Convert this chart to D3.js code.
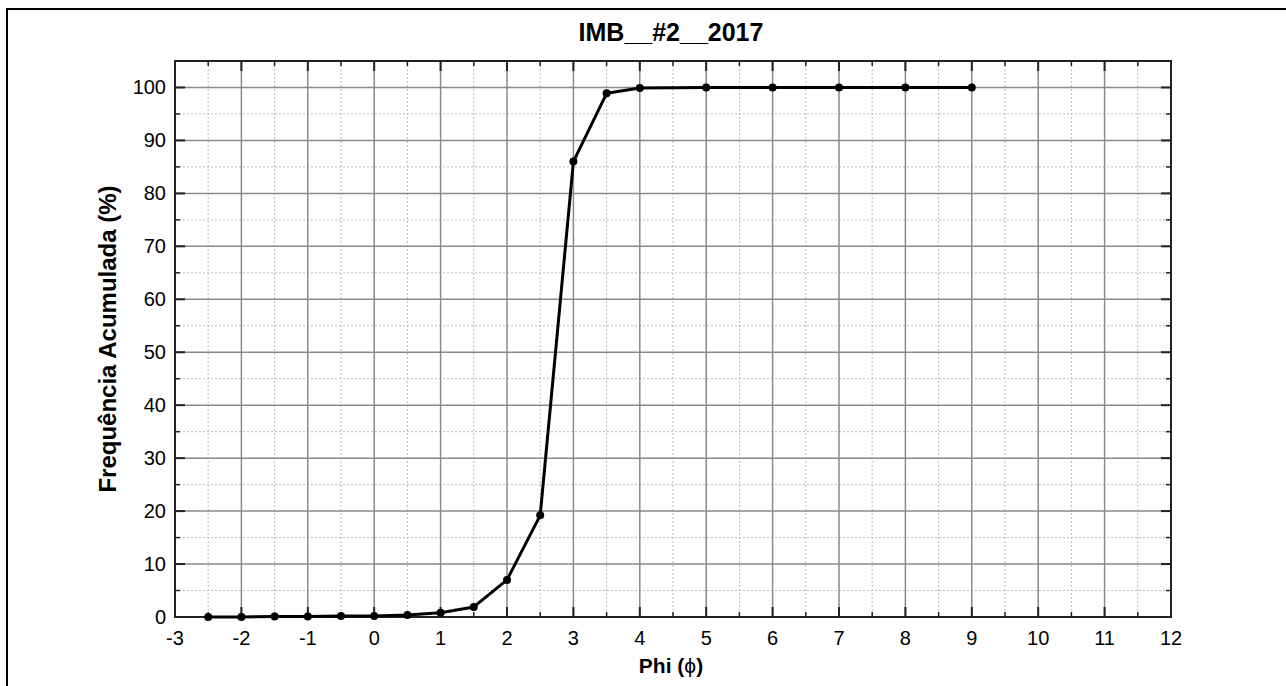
<!DOCTYPE html>
<html lang="pt">
<head>
  <meta charset="UTF-8" />
  <title>IMB__#2__2017</title>
  <script src="https://d3js.org/d3.v7.min.js"></script>
  <style>
    body{margin:0;background:#fff;font-family:"Liberation Sans",Arial,sans-serif}
    svg{display:block}
    .tick-label{font-size:20px;fill:#000}
  </style>
</head>
<body>
  <div id="chart"></div>
  <script>
    const title = "IMB__#2__2017";
    const phi = [-2.5, -2, -1.5, -1, -0.5, 0, 0.5, 1, 1.5, 2, 2.5, 3, 3.5, 4, 5, 6, 7, 8, 9];
    const freqAcum = [0, 0, 0.1, 0.1, 0.2, 0.2, 0.4, 0.8, 1.9, 7, 19.2, 86, 98.9, 99.9, 100, 100, 100, 100, 100];
    const xTicks = d3.range(-3, 13, 1);
    const yTicks = d3.range(0, 101, 10);

    const W = 1286, H = 686;
    const svg = d3.select("#chart").append("svg").attr("width", W).attr("height", H);

    // outer frame
    svg.append("rect").attr("x", 7).attr("y", 9).attr("width", W).attr("height", H)
      .attr("fill", "none").attr("stroke", "#000").attr("stroke-width", 2);

    const m = {left: 175, right: 1171, top: 61, bottom: 617};
    const x = d3.scaleLinear().domain([-3, 12]).range([m.left, m.right]);
    const y = d3.scaleLinear().domain([0, 105]).range([m.bottom, m.top]);

    const minorX = d3.range(-2.5, 12, 1);
    const minorY = d3.range(5, 105, 10);

    // minor grid (dotted)
    svg.append("g").selectAll("line").data(minorX).enter().append("line")
      .attr("x1", d => x(d)).attr("x2", d => x(d)).attr("y1", m.top).attr("y2", m.bottom)
      .attr("stroke", "#bbb").attr("stroke-width", 1).attr("stroke-dasharray", "2,2");
    svg.append("g").selectAll("line").data(minorY).enter().append("line")
      .attr("y1", d => y(d)).attr("y2", d => y(d)).attr("x1", m.left).attr("x2", m.right)
      .attr("stroke", "#bbb").attr("stroke-width", 1).attr("stroke-dasharray", "2,2");

    // major grid
    svg.append("g").selectAll("line").data(xTicks.slice(1, -1)).enter().append("line")
      .attr("x1", d => x(d)).attr("x2", d => x(d)).attr("y1", m.top).attr("y2", m.bottom)
      .attr("stroke", "#8a8a8a").attr("stroke-width", 1.5);
    svg.append("g").selectAll("line").data(yTicks.slice(1)).enter().append("line")
      .attr("y1", d => y(d)).attr("y2", d => y(d)).attr("x1", m.left).attr("x2", m.right)
      .attr("stroke", "#8a8a8a").attr("stroke-width", 1.5);

    // inward ticks on all four sides
    const tk = svg.append("g").attr("stroke", "#222");
    const addTicks = (vals, len, w) => {
      vals.forEach(v => {
        tk.append("line").attr("x1", x(v)).attr("x2", x(v)).attr("y1", m.bottom).attr("y2", m.bottom - len).attr("stroke-width", w);
        tk.append("line").attr("x1", x(v)).attr("x2", x(v)).attr("y1", m.top).attr("y2", m.top + len).attr("stroke-width", w);
      });
    };
    addTicks(xTicks, 10, 2);
    addTicks(minorX, 5, 1.5);
    const addYTicks = (vals, len, w) => {
      vals.forEach(v => {
        tk.append("line").attr("y1", y(v)).attr("y2", y(v)).attr("x1", m.left).attr("x2", m.left + len).attr("stroke-width", w);
        tk.append("line").attr("y1", y(v)).attr("y2", y(v)).attr("x1", m.right).attr("x2", m.right - len).attr("stroke-width", w);
      });
    };
    addYTicks(yTicks, 10, 2);
    addYTicks(minorY, 5, 1.5);

    // plot frame
    svg.append("rect").attr("x", m.left).attr("y", m.top)
      .attr("width", m.right - m.left).attr("height", m.bottom - m.top)
      .attr("fill", "none").attr("stroke", "#222").attr("stroke-width", 2);

    // tick labels
    svg.append("g").selectAll("text").data(xTicks).enter().append("text")
      .attr("class", "tick-label").attr("x", d => x(d)).attr("y", 645)
      .attr("text-anchor", "middle").text(d => d);
    svg.append("g").selectAll("text").data(yTicks).enter().append("text")
      .attr("class", "tick-label").attr("x", 166).attr("y", d => y(d) + 7)
      .attr("text-anchor", "end").text(d => d);

    // series
    const pts = phi.map((p, i) => ({p, f: freqAcum[i]}));
    svg.append("path").datum(pts).attr("fill", "none").attr("stroke", "#000").attr("stroke-width", 3)
      .attr("stroke-linejoin", "round")
      .attr("d", d3.line().x(d => x(d.p)).y(d => y(d.f)));
    svg.append("g").selectAll("circle").data(pts).enter().append("circle")
      .attr("cx", d => x(d.p)).attr("cy", d => y(d.f)).attr("r", 4).attr("fill", "#000");

    // titles
    svg.append("text").attr("x", 671).attr("y", 41)
      .attr("text-anchor", "middle").style("font-size", "25px").style("font-weight", "bold")
      .text(title);
    const xl = svg.append("text").attr("x", 671).attr("y", 673)
      .attr("text-anchor", "middle").style("font-size", "21px").style("font-weight", "bold");
    xl.append("tspan").text("Phi (");
    xl.append("tspan").style("font-weight", "normal").text("ϕ");
    xl.append("tspan").text(")");
    svg.append("text").attr("transform", `translate(116,${(m.top + m.bottom) / 2}) rotate(-90)`)
      .attr("text-anchor", "middle").style("font-size", "24px").style("font-weight", "bold")
      .text("Frequência Acumulada (%)");
  </script>
</body>
</html>
